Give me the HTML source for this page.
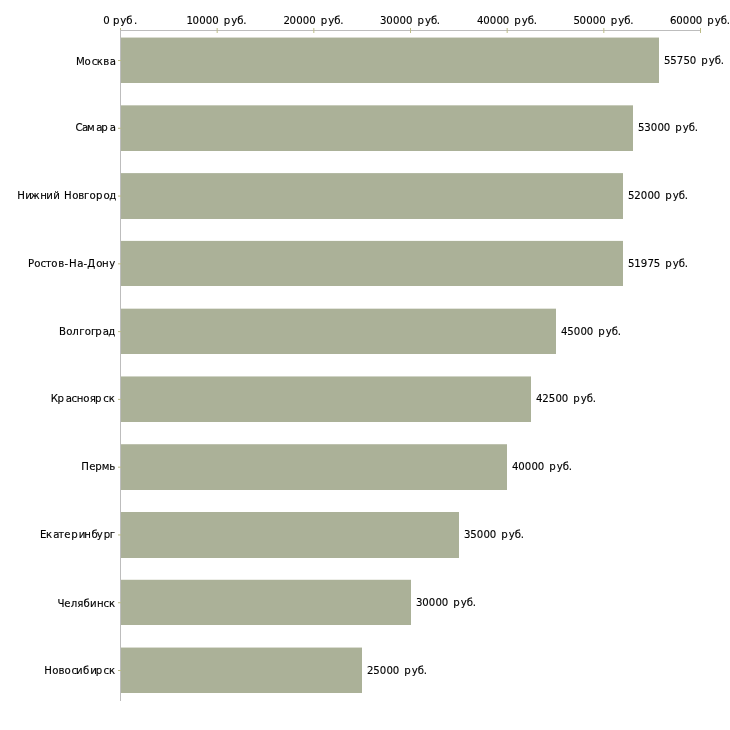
<!DOCTYPE html>
<html lang="ru"><head><meta charset="utf-8"><title>Зарплата по городам</title>
<style>html,body{margin:0;padding:0;background:#fff}svg{display:block}text{font-family:"DejaVu Sans Condensed","DejaVu Sans","Liberation Sans",sans-serif;font-size:11px;font-stretch:condensed;fill:#000;stroke:#000;stroke-width:0.12px}</style></head><body>
<svg width="730" height="730" viewBox="0 0 730 730">
<rect width="730" height="730" fill="#fff"/>
<rect x="121" y="37.56" width="538" height="45.44" fill="#abb198"/>
<rect x="121" y="105.34" width="512" height="45.66" fill="#abb198"/>
<rect x="121" y="173.12" width="502" height="45.88" fill="#abb198"/>
<rect x="121" y="240.89" width="502" height="45.11" fill="#abb198"/>
<rect x="121" y="308.67" width="435" height="45.33" fill="#abb198"/>
<rect x="121" y="376.45" width="410" height="45.55" fill="#abb198"/>
<rect x="121" y="444.23" width="386" height="45.77" fill="#abb198"/>
<rect x="121" y="512.00" width="338" height="46.00" fill="#abb198"/>
<rect x="121" y="579.78" width="290" height="45.22" fill="#abb198"/>
<rect x="121" y="647.56" width="241" height="45.44" fill="#abb198"/>
<rect x="120" y="30" width="581" height="1" fill="#bdbdbd"/>
<rect x="120" y="30" width="1" height="671" fill="#bdbdbd"/>
<rect x="120" y="28" width="1" height="2" fill="#bcbc88"/>
<rect x="216.67" y="28" width="1" height="5" fill="#bcbc88"/>
<rect x="313.33" y="28" width="1" height="5" fill="#bcbc88"/>
<rect x="410.00" y="28" width="1" height="5" fill="#bcbc88"/>
<rect x="506.67" y="28" width="1" height="5" fill="#bcbc88"/>
<rect x="603.33" y="28" width="1" height="5" fill="#bcbc88"/>
<rect x="700.00" y="28" width="1" height="5" fill="#bcbc88"/>
<rect x="118" y="60.00" width="3" height="1" fill="#bcbc88"/>
<rect x="118" y="127.78" width="3" height="1" fill="#bcbc88"/>
<rect x="118" y="195.56" width="3" height="1" fill="#bcbc88"/>
<rect x="118" y="263.33" width="3" height="1" fill="#bcbc88"/>
<rect x="118" y="331.11" width="3" height="1" fill="#bcbc88"/>
<rect x="118" y="398.89" width="3" height="1" fill="#bcbc88"/>
<rect x="118" y="466.67" width="3" height="1" fill="#bcbc88"/>
<rect x="118" y="534.44" width="3" height="1" fill="#bcbc88"/>
<rect x="118" y="602.22" width="3" height="1" fill="#bcbc88"/>
<rect x="118" y="670.00" width="3" height="1" fill="#bcbc88"/>
<text x="100.13 104.93 109.73 116.86 122.63 130.07" y="24" transform="scale(1.03,1)">0 руб.</text>
<text x="180.97 187.00 193.40 199.86 206.02 211.62 217.21 224.51 230.35 236.08" y="24" transform="scale(1.03,1)">10000 руб.</text>
<text x="275.15 281.17 287.58 294.03 300.20 305.79 311.39 318.68 324.52 330.26" y="24" transform="scale(1.03,1)">20000 руб.</text>
<text x="369.03 375.05 381.46 387.92 394.08 399.68 405.27 412.57 418.41 424.14" y="24" transform="scale(1.03,1)">30000 руб.</text>
<text x="463.11 469.13 475.54 482.00 488.16 493.76 499.35 506.64 512.48 518.22" y="24" transform="scale(1.03,1)">40000 руб.</text>
<text x="556.71 562.72 569.13 575.59 581.75 587.35 592.94 600.24 606.08 611.81" y="24" transform="scale(1.03,1)">50000 руб.</text>
<text x="650.49 656.51 662.92 669.37 675.54 681.13 686.73 694.02 699.86 705.60" y="24" transform="scale(1.03,1)">60000 руб.</text>
<text x="73.84 81.94 89.00 94.05 100.18 106.59" y="65" transform="scale(1.03,1)">Москва</text>
<text x="73.21 79.51 84.43 93.49 98.21 106.58" y="131" transform="scale(1.03,1)">Самара</text>
<text x="16.69 24.41 29.52 38.96 44.81 51.60 56.93 62.26 70.16 76.03 81.61 86.94 93.32 100.47 106.14" y="199" transform="scale(1.03,1)">Нижний Новгород</text>
<text x="27.26 33.35 39.29 44.14 49.75 56.52 62.70 67.03 75.11 81.09 84.84 93.42 99.12 106.09" y="267" transform="scale(1.03,1)">Ростов-На-Дону</text>
<text x="57.31 64.24 70.11 76.83 82.17 88.26 92.36 99.85 105.12" y="335" transform="scale(1.03,1)">Волгоград</text>
<text x="49.35 55.75 63.73 69.38 74.55 80.80 87.04 92.15 100.37 105.55" y="402" transform="scale(1.03,1)">Красноярск</text>
<text x="78.79 86.73 92.36 98.68 106.17" y="470" transform="scale(1.03,1)">Пермь</text>
<text x="38.81 44.64 51.80 56.61 62.44 69.07 76.41 81.78 88.77 93.99 100.78 106.56" y="538" transform="scale(1.03,1)">Екатеринбург</text>
<text x="55.80 62.39 68.69 75.11 81.10 87.36 94.28 100.52 105.74" y="607" transform="scale(1.03,1)">Челябинск</text>
<text x="42.92 50.68 56.83 62.60 69.51 73.73 80.71 87.62 93.01 100.53 105.85" y="674" transform="scale(1.03,1)">Новосибирск</text>
<text x="644.67 650.69 657.09 663.55 669.71 675.31 680.90 688.20 694.04 699.77" y="64" transform="scale(1.03,1)">55750 руб.</text>
<text x="619.42 625.44 631.85 638.31 644.47 650.07 655.66 662.95 668.79 674.53" y="131" transform="scale(1.03,1)">53000 руб.</text>
<text x="609.72 615.74 622.14 628.60 634.76 640.36 645.95 653.24 659.09 664.82" y="199" transform="scale(1.03,1)">52000 руб.</text>
<text x="609.72 615.73 622.14 628.60 634.76 640.36 645.95 653.24 659.09 664.82" y="267" transform="scale(1.03,1)">51975 руб.</text>
<text x="544.67 550.69 557.09 563.55 569.71 575.31 580.90 588.20 594.04 599.77" y="335" transform="scale(1.03,1)">45000 руб.</text>
<text x="520.39 526.42 532.82 539.28 545.44 551.04 556.63 563.92 569.77 575.50" y="402" transform="scale(1.03,1)">42500 руб.</text>
<text x="497.09 503.11 509.52 515.98 522.14 527.74 533.33 540.62 546.46 552.20" y="470" transform="scale(1.03,1)">40000 руб.</text>
<text x="450.49 456.51 462.92 469.37 475.54 481.13 486.73 494.02 499.86 505.60" y="538" transform="scale(1.03,1)">35000 руб.</text>
<text x="403.89 409.91 416.32 422.77 428.94 434.53 440.13 447.42 453.26 458.99" y="606" transform="scale(1.03,1)">30000 руб.</text>
<text x="356.32 362.34 368.74 375.20 381.36 386.96 392.55 399.85 405.69 411.42" y="674" transform="scale(1.03,1)">25000 руб.</text>
</svg></body></html>
